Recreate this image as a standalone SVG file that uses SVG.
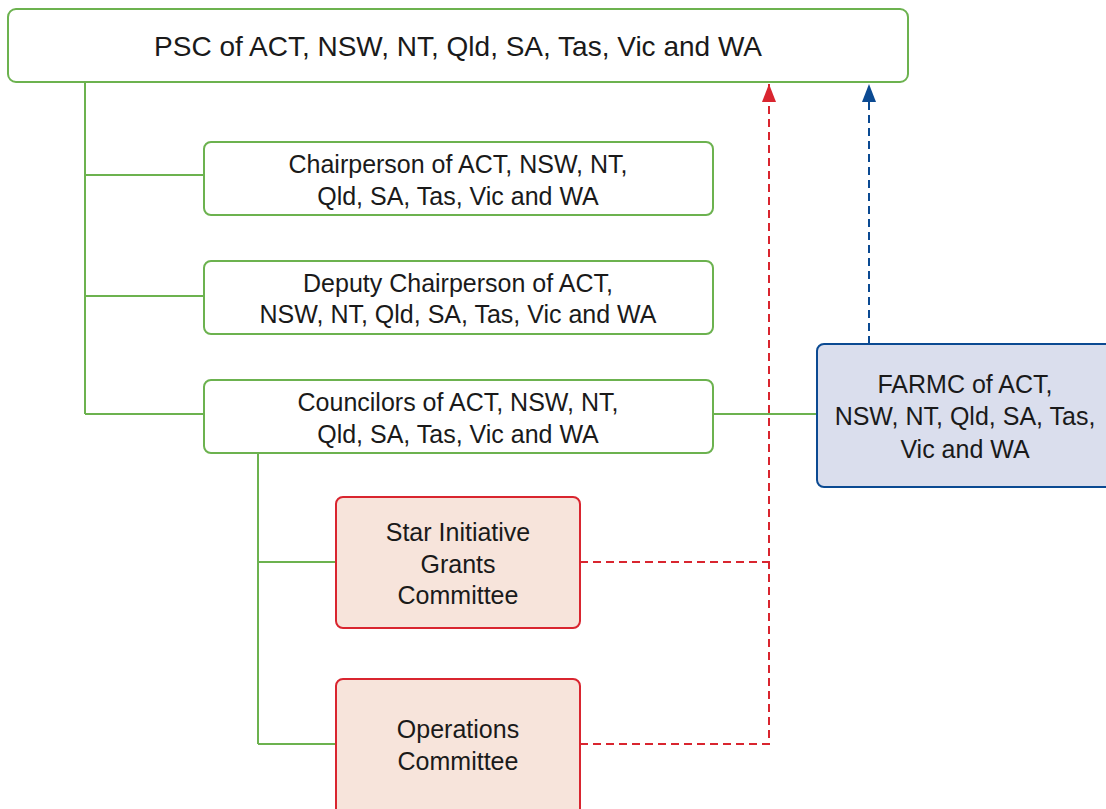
<svg xmlns="http://www.w3.org/2000/svg" width="1106" height="809" viewBox="0 0 1106 809">
<style>
.g{fill:#ffffff;stroke:#6cb24f;stroke-width:2}
.r{fill:#f7e4db;stroke:#d9252f;stroke-width:2}
.b{fill:#dadeed;stroke:#0b4a92;stroke-width:2}
.t{font-family:"Liberation Sans",Arial,sans-serif;font-size:25px;fill:#1a1a1a;text-anchor:middle}
.tl{font-size:28px}
.cg{stroke:#6cb24f;stroke-width:2;fill:none}
.cr{stroke:#d9252f;stroke-width:2;fill:none;stroke-dasharray:8 5}
.cb{stroke:#0b4a92;stroke-width:2;fill:none;stroke-dasharray:8 5}
</style>
<defs>
<marker id="ar" markerUnits="userSpaceOnUse" markerWidth="18" markerHeight="14" refX="18" refY="7" orient="auto" viewBox="0 0 18 14"><path d="M0,0 L18,7 L0,14 Z" fill="#d9252f"/></marker>
<marker id="ab" markerUnits="userSpaceOnUse" markerWidth="18" markerHeight="14" refX="18" refY="7" orient="auto" viewBox="0 0 18 14"><path d="M0,0 L18,7 L0,14 Z" fill="#0b4a92"/></marker>
</defs>
<rect width="1106" height="809" fill="#ffffff"/>
<g id="connectors">
<path class="cg" d="M85,82 V414 M85,175 H204 M85,296 H204 M85,414 H204"/>
<path class="cg" d="M713,414 H817"/>
<path class="cg" d="M258,454 V744 M258,562 H336 M258,744 H336"/>
<path class="cr" d="M580,562 H769"/>
<path class="cr" d="M580,744 H769 V84" marker-end="url(#ar)"/>
<path class="cb" d="M869,344 V84" marker-end="url(#ab)"/>
</g>
<g id="psc">
<rect class="g" x="8" y="9" width="900" height="73" rx="8"/>
<text class="t tl" x="458" y="56">PSC of ACT, NSW, NT, Qld, SA, Tas, Vic and WA</text>
</g>
<g id="chair">
<rect class="g" x="204" y="142" width="509" height="73" rx="7"/>
<text class="t" x="458" y="173">Chairperson of ACT, NSW, NT,</text>
<text class="t" x="458" y="205">Qld, SA, Tas, Vic and WA</text>
</g>
<g id="deputy">
<rect class="g" x="204" y="261" width="509" height="73" rx="7"/>
<text class="t" x="458" y="292">Deputy Chairperson of ACT,</text>
<text class="t" x="458" y="323">NSW, NT, Qld, SA, Tas, Vic and WA</text>
</g>
<g id="councilors">
<rect class="g" x="204" y="380" width="509" height="73" rx="7"/>
<text class="t" x="458" y="411">Councilors of ACT, NSW, NT,</text>
<text class="t" x="458" y="443">Qld, SA, Tas, Vic and WA</text>
</g>
<g id="farmc">
<rect class="b" x="817" y="344" width="300" height="143" rx="7"/>
<text class="t" x="965" y="393">FARMC of ACT,</text>
<text class="t" x="965" y="425">NSW, NT, Qld, SA, Tas,</text>
<text class="t" x="965" y="458">Vic and WA</text>
</g>
<g id="star">
<rect class="r" x="336" y="497" width="244" height="131" rx="7"/>
<text class="t" x="458" y="541">Star Initiative</text>
<text class="t" x="458" y="573">Grants</text>
<text class="t" x="458" y="604">Committee</text>
</g>
<g id="operations">
<rect class="r" x="336" y="679" width="244" height="140" rx="7"/>
<text class="t" x="458" y="738">Operations</text>
<text class="t" x="458" y="770">Committee</text>
</g>
</svg>
